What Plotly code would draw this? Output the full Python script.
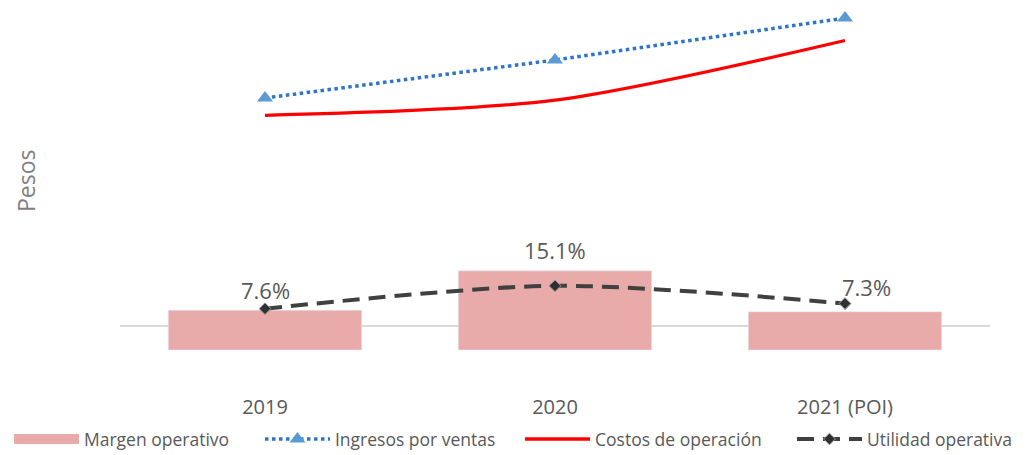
import plotly.graph_objects as go

# datos (millones de pesos, estimados de la gráfica)
anios = ["2019", "2020", "2021 (POI)"]
ingresos = [2280, 2660, 3080]
costos = [2107, 2258, 2855]
utilidad = [173, 402, 225]
margen = [7.6, 15.1, 7.3]
margen_txt = ["7.6%", "15.1%", "7.3%"]

gris = "#7f7f7f"
texto = "#595959"
rosa = "#E9AAAA"
fuente = "Open Sans"

fig = go.Figure()

# barras en el eje principal para que queden debajo de las líneas
fig.add_trace(go.Bar(
    x=anios, y=margen, name="Margen operativo", yaxis="y",
    marker=dict(color=rosa), width=0.667,
    legendgroup="margen", showlegend=False,
))
# muestra de leyenda ancha para las barras
fig.add_trace(go.Scatter(
    x=[None], y=[None], name="Margen operativo", mode="lines",
    line=dict(color=rosa, width=11), legendgroup="margen", legend="legend",
))
fig.add_trace(go.Scatter(
    x=anios, y=ingresos, name="Ingresos por ventas", mode="lines+markers", yaxis="y2",
    line=dict(color="#2E75C6", width=3.5, dash="dot"),
    marker=dict(symbol="triangle-up", size=14, color="#5B9BD5"),
    legend="legend2",
))
fig.add_trace(go.Scatter(
    x=anios, y=costos, name="Costos de operación", mode="lines", yaxis="y2",
    line=dict(color="#FF0000", width=3.3, shape="spline", smoothing=0.8),
    legend="legend3",
))
fig.add_trace(go.Scatter(
    x=anios, y=utilidad, name="Utilidad operativa", mode="lines+markers", yaxis="y2",
    line=dict(color="#404040", width=4, dash="17px,9px", shape="spline", smoothing=0.8),
    marker=dict(symbol="diamond", size=9, color="#303030",
                line=dict(color="#999999", width=1)),
    legend="legend4",
))

# etiquetas de margen
desplaza = [(0, 20, False), (0, 21, False), (21, -23, True)]
for i, (dx, dy, flecha) in enumerate(desplaza):
    if flecha:
        fig.add_annotation(
            x=i, y=margen[i], xref="x", yref="y", text=margen_txt[i],
            showarrow=True, ax=dx, ay=dy, arrowhead=0, arrowwidth=1,
            arrowcolor=gris, yshift=2,
            font=dict(family=fuente, size=22, color=texto),
        )
    else:
        fig.add_annotation(
            x=i, y=margen[i], xref="x", yref="y", text=margen_txt[i],
            showarrow=False, xshift=dx, yshift=dy,
            font=dict(family=fuente, size=22, color=texto),
        )

fig.add_annotation(
    x=-0.1287, y=0.5506, xref="paper", yref="paper", text="Pesos",
    textangle=-90, showarrow=False, xanchor="left", yanchor="middle",
    font=dict(family=fuente, size=23, color=gris),
)


def leyenda(x):
    return dict(
        orientation="h", x=x, xanchor="left", y=-0.073, yanchor="top",
        itemwidth=65, bgcolor="rgba(0,0,0,0)",
        font=dict(family=fuente, size=17.5, color=texto),
    )


fig.update_layout(
    width=1027, height=455,
    margin=dict(l=112, r=45, t=0, b=70, autoexpand=False),
    paper_bgcolor="white", plot_bgcolor="white",
    font=dict(family=fuente, color=texto),
    xaxis=dict(
        type="category", range=[-0.5, 2.5], showgrid=False, showline=False, ticks="",
        tickfont=dict(family=fuente, size=20, color=texto),
    ),
    yaxis=dict(
        range=[-8.21, 65.27], showgrid=False, showticklabels=False, zeroline=False,
    ),
    yaxis2=dict(
        range=[-670, 3180], overlaying="y", side="left",
        showgrid=False, showticklabels=False,
        zeroline=True, zerolinecolor="#d9d9d9", zerolinewidth=2,
    ),
    showlegend=True,
    legend=leyenda(-0.1276),
    legend2=leyenda(0.1609),
    legend3=leyenda(0.4598),
    legend4=leyenda(0.7724),
)

fig.write_html("out.html")
